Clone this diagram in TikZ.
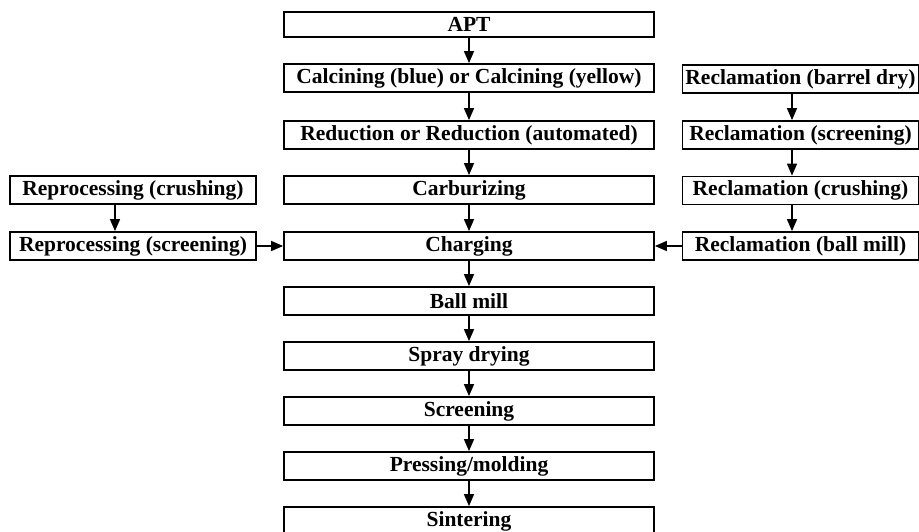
\documentclass[tikz,border=0pt]{standalone}
\usepackage{fontspec}
\setmainfont{Liberation Serif}
\usetikzlibrary{arrows.meta}
\begin{document}
\begin{tikzpicture}[x=1pt,y=-1pt,
  box/.style={draw=black,line width=1.8pt,fill=white,inner sep=0pt,
    font=\fontsize{21.5}{24}\selectfont\bfseries,anchor=center},
  mainbox/.style={box,minimum width=370pt,minimum height=28pt},
  sidebox/.style={box,minimum width=246pt,minimum height=28pt},
  rightbox/.style={box,minimum width=236pt,minimum height=28pt},
  flow/.style={line width=1.5pt,-{Triangle[length=12pt,width=10pt]}}]
\useasboundingbox (0,0) rectangle (919,532);
% main column
\node[mainbox,minimum height=25pt] (apt) at (469,24.5) {APT};
\node[mainbox] (calc) at (469,78) {Calcining (blue) or Calcining (yellow)};
\node[mainbox] (red) at (469,135) {Reduction or Reduction (automated)};
\node[mainbox] (carb) at (469,190) {Carburizing};
\node[mainbox] (charg) at (469,246) {Charging};
\node[mainbox] (ball) at (469,301) {Ball mill};
\node[mainbox] (spray) at (469,356) {Spray drying};
\node[mainbox] (scr) at (469,411) {Screening};
\node[mainbox] (press) at (469,466) {Pressing/molding};
\node[mainbox] (sint) at (469,521) {Sintering};
% left column
\node[sidebox] (rcr) at (133,190) {Reprocessing (crushing)};
\node[sidebox] (rsc) at (133,246) {Reprocessing (screening)};
% right column
\node[rightbox] (lbd) at (800.5,79) {Reclamation (barrel dry)};
\node[rightbox] (lsc) at (800.5,135) {Reclamation (screening)};
\node[rightbox] (lcr) at (800.5,190.5) {Reclamation (crushing)};
\node[rightbox] (lbm) at (800.5,246) {Reclamation (ball mill)};
% main arrows
\draw[flow] (apt) -- (calc);
\draw[flow] (calc) -- (red);
\draw[flow] (red) -- (carb);
\draw[flow] (carb) -- (charg);
\draw[flow] (charg) -- (ball);
\draw[flow] (ball) -- (spray);
\draw[flow] (spray) -- (scr);
\draw[flow] (scr) -- (press);
\draw[flow] (press) -- (sint);
% left arrows
\draw[flow] ([xshift=-18pt]rcr.south) -- ([xshift=-18pt]rsc.north);
\draw[flow] (rsc) -- (charg);
% right arrows
\draw[flow] ([xshift=-8.5pt]lbd.south) -- ([xshift=-8.5pt]lsc.north);
\draw[flow] ([xshift=-8.5pt]lsc.south) -- ([xshift=-8.5pt]lcr.north);
\draw[flow] ([xshift=-8.5pt]lcr.south) -- ([xshift=-8.5pt]lbm.north);
\draw[flow] (lbm) -- (charg);
\end{tikzpicture}
\end{document}
